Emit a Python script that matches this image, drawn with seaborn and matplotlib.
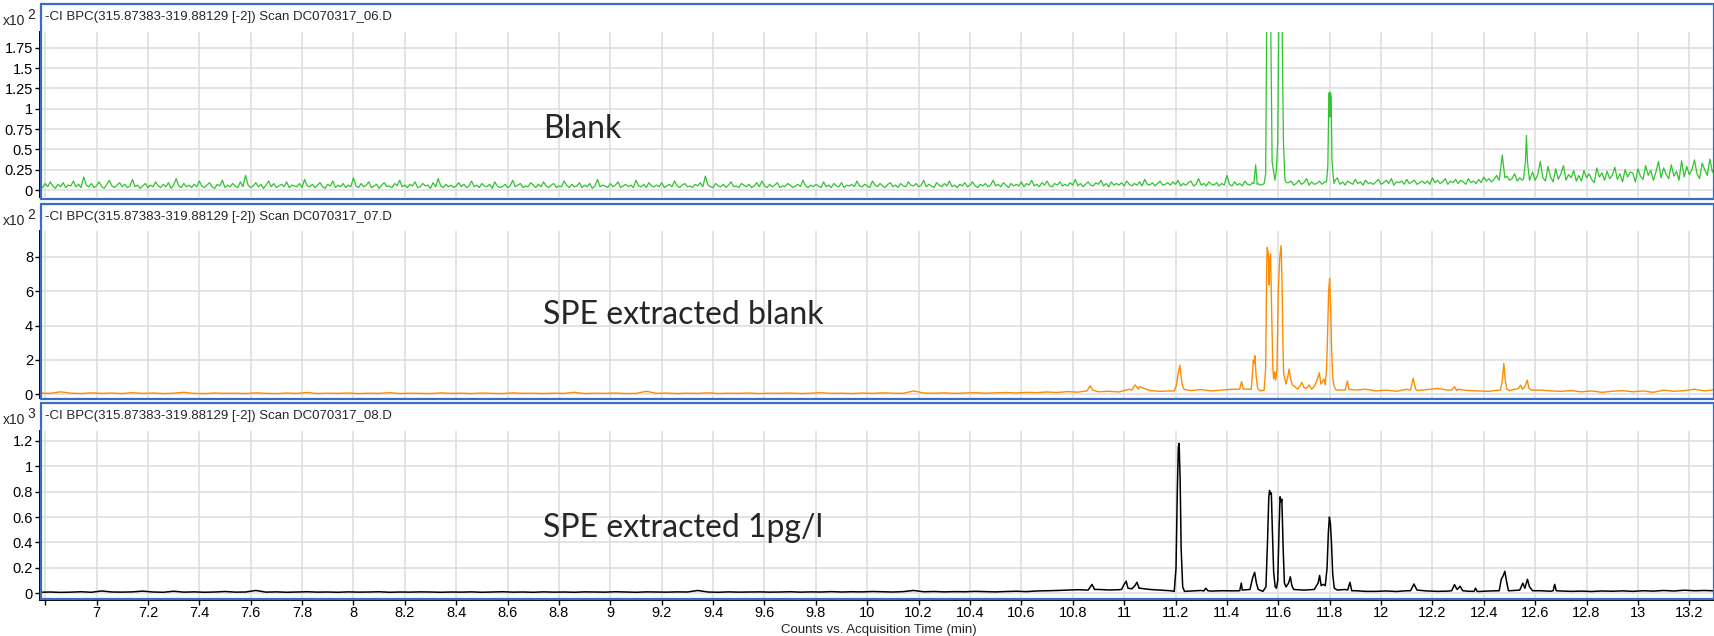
import numpy as np
import pandas as pd
import matplotlib.pyplot as plt
import seaborn as sns
from matplotlib.patches import Rectangle
from matplotlib.ticker import FixedLocator, FuncFormatter

sns.set_theme(style="whitegrid")
plt.rcParams['font.family'] = ['Liberation Sans', 'DejaVu Sans']

# --- DATA ---
HEADERS = [
    "-CI BPC(315.87383-319.88129 [-2]) Scan DC070317_06.D",
    "-CI BPC(315.87383-319.88129 [-2]) Scan DC070317_07.D",
    "-CI BPC(315.87383-319.88129 [-2]) Scan DC070317_08.D",
]
SAMPLE_LABELS = ["Blank", "SPE extracted blank", "SPE extracted 1pg/l"]
EXPONENTS = ["2", "2", "3"]
X_LABEL = "Counts vs. Acquisition Time (min)"
XTICKS = [6.8, 7.0, 7.2, 7.4, 7.6, 7.8, 8.0, 8.2, 8.4, 8.6, 8.8, 9.0, 9.2, 9.4, 9.6,
          9.8, 10.0, 10.2, 10.4, 10.6, 10.8, 11.0, 11.2, 11.4, 11.6, 11.8, 12.0,
          12.2, 12.4, 12.6, 12.8, 13.0, 13.2]
YTICKS = [
    [0, 0.25, 0.5, 0.75, 1.0, 1.25, 1.5, 1.75],
    [0, 2, 4, 6, 8],
    [0, 0.2, 0.4, 0.6, 0.8, 1.0, 1.2],
]

# Blank (x10^2 counts): baseline sampled every 0.01 min from 6.78 min
BLANK_T0, BLANK_DT = 6.78, 0.01
BLANK_BASE = [
    0.06, 0.03, 0.08, 0.04, 0.10, 0.05, 0.02, 0.07, 0.04, 0.09, 0.03, 0.06, 0.05, 0.11, 0.04, 0.07, 0.03, 0.16, 0.06, 0.04,
    0.08, 0.03, 0.05, 0.10, 0.04, 0.02, 0.07, 0.12, 0.05, 0.03, 0.06, 0.09, 0.04, 0.07, 0.03, 0.05, 0.13, 0.04, 0.06, 0.02,
    0.05, 0.08, 0.03, 0.06, 0.04, 0.10, 0.05, 0.03, 0.07, 0.04, 0.09, 0.02, 0.06, 0.14, 0.05, 0.03, 0.08, 0.04, 0.06, 0.03,
    0.07, 0.04, 0.11, 0.05, 0.03, 0.06, 0.09, 0.04, 0.02, 0.07, 0.05, 0.12, 0.03, 0.06, 0.04, 0.08, 0.05, 0.03, 0.10, 0.04,
    0.18, 0.06, 0.03, 0.05, 0.09, 0.04, 0.07, 0.02, 0.06, 0.11, 0.04, 0.08, 0.03, 0.05, 0.07, 0.04, 0.10, 0.03, 0.06, 0.05,
    0.04, 0.08, 0.03, 0.13, 0.05, 0.04, 0.07, 0.03, 0.06, 0.09, 0.04, 0.02, 0.07, 0.05, 0.11, 0.03, 0.06, 0.04, 0.08, 0.03,
    0.06, 0.04, 0.15, 0.05, 0.03, 0.08, 0.04, 0.06, 0.10, 0.03, 0.05, 0.07, 0.02, 0.06, 0.09, 0.04, 0.05, 0.03, 0.08, 0.05,
    0.12, 0.04, 0.06, 0.03, 0.07, 0.05, 0.10, 0.03, 0.04, 0.08, 0.05, 0.06, 0.02, 0.09, 0.04, 0.14, 0.05, 0.03, 0.07, 0.04,
    0.06, 0.03, 0.05, 0.09, 0.04, 0.07, 0.03, 0.05, 0.11, 0.04, 0.06, 0.03, 0.08, 0.05, 0.04, 0.07, 0.02, 0.10, 0.05, 0.03,
    0.04, 0.07, 0.03, 0.05, 0.12, 0.04, 0.06, 0.08, 0.03, 0.05, 0.04, 0.09, 0.06, 0.03, 0.07, 0.04, 0.10, 0.05, 0.03, 0.06,
    0.08, 0.03, 0.05, 0.04, 0.11, 0.06, 0.03, 0.07, 0.04, 0.05, 0.09, 0.03, 0.06, 0.04, 0.08, 0.02, 0.05, 0.13, 0.04, 0.06,
    0.05, 0.03, 0.08, 0.04, 0.06, 0.10, 0.03, 0.05, 0.07, 0.04, 0.06, 0.03, 0.12, 0.05, 0.04, 0.07, 0.03, 0.09, 0.05, 0.04,
    0.06, 0.04, 0.09, 0.03, 0.05, 0.07, 0.04, 0.11, 0.05, 0.03, 0.06, 0.08, 0.04, 0.05, 0.03, 0.07, 0.05, 0.09, 0.04, 0.17,
    0.06, 0.04, 0.03, 0.08, 0.05, 0.04, 0.07, 0.03, 0.06, 0.10, 0.04, 0.05, 0.03, 0.08, 0.06, 0.04, 0.07, 0.03, 0.05, 0.09,
    0.04, 0.11, 0.05, 0.03, 0.07, 0.04, 0.06, 0.09, 0.03, 0.05, 0.04, 0.08, 0.06, 0.03, 0.05, 0.07, 0.04, 0.12, 0.05, 0.03,
    0.06, 0.04, 0.07, 0.05, 0.03, 0.10, 0.04, 0.06, 0.03, 0.08, 0.05, 0.04, 0.09, 0.03, 0.06, 0.05, 0.07, 0.04, 0.11, 0.05,
    0.04, 0.07, 0.05, 0.03, 0.11, 0.06, 0.04, 0.08, 0.05, 0.03, 0.07, 0.09, 0.04, 0.06, 0.03, 0.08, 0.05, 0.04, 0.10, 0.06,
    0.05, 0.08, 0.04, 0.06, 0.12, 0.04, 0.07, 0.05, 0.03, 0.09, 0.06, 0.04, 0.08, 0.05, 0.11, 0.04, 0.06, 0.03, 0.07, 0.05,
    0.09, 0.04, 0.06, 0.10, 0.05, 0.03, 0.07, 0.05, 0.08, 0.04, 0.06, 0.12, 0.05, 0.07, 0.04, 0.09, 0.06, 0.03, 0.08, 0.05,
    0.07, 0.05, 0.10, 0.04, 0.08, 0.06, 0.12, 0.05, 0.07, 0.04, 0.09, 0.06, 0.11, 0.05, 0.04, 0.08, 0.06, 0.10, 0.05, 0.07,
    0.05, 0.09, 0.06, 0.13, 0.05, 0.08, 0.04, 0.07, 0.10, 0.06, 0.05, 0.09, 0.07, 0.12, 0.05, 0.08, 0.04, 0.10, 0.06, 0.08,
    0.06, 0.09, 0.05, 0.11, 0.07, 0.05, 0.08, 0.06, 0.10, 0.05, 0.13, 0.07, 0.06, 0.09, 0.05, 0.08, 0.11, 0.06, 0.07, 0.09,
    0.06, 0.10, 0.07, 0.12, 0.05, 0.08, 0.06, 0.09, 0.11, 0.05, 0.07, 0.14, 0.06, 0.08, 0.05, 0.10, 0.07, 0.06, 0.09, 0.05,
    0.08, 0.06, 0.18, 0.07, 0.05, 0.10, 0.06, 0.08, 0.05, 0.11, 0.07, 0.06, 0.09, 0.05, 0.08, 0.06, 0.07, 0.09, 0.06, 0.08,
    0.12, 0.09, 0.10, 0.07, 0.13, 0.06, 0.09, 0.11, 0.06, 0.08, 0.12, 0.07, 0.09, 0.14, 0.06, 0.10, 0.07, 0.08, 0.11, 0.07,
    0.10, 0.08, 0.12, 0.09, 0.08, 0.15, 0.07, 0.10, 0.06, 0.11, 0.09, 0.07, 0.13, 0.08, 0.10, 0.06, 0.12, 0.08, 0.09, 0.07,
    0.10, 0.13, 0.07, 0.09, 0.12, 0.08, 0.14, 0.06, 0.10, 0.09, 0.11, 0.07, 0.13, 0.08, 0.10, 0.12, 0.07, 0.09, 0.11, 0.08,
    0.11, 0.07, 0.15, 0.09, 0.12, 0.08, 0.10, 0.14, 0.07, 0.11, 0.09, 0.13, 0.08, 0.12, 0.10, 0.07, 0.14, 0.09, 0.11, 0.08,
    0.13, 0.09, 0.16, 0.11, 0.14, 0.10, 0.13, 0.18, 0.12, 0.15, 0.10, 0.17, 0.12, 0.14, 0.20, 0.11, 0.15, 0.12, 0.18, 0.13,
    0.14, 0.22, 0.12, 0.19, 0.35, 0.15, 0.11, 0.29, 0.16, 0.10, 0.26, 0.13, 0.20, 0.30, 0.12, 0.19, 0.15, 0.24, 0.11, 0.18,
    0.11, 0.24, 0.15, 0.20, 0.13, 0.09, 0.27, 0.16, 0.21, 0.12, 0.23, 0.14, 0.18, 0.28, 0.13, 0.20, 0.10, 0.25, 0.16, 0.22,
    0.21, 0.10, 0.26, 0.17, 0.13, 0.30, 0.18, 0.24, 0.12, 0.22, 0.35, 0.15, 0.27, 0.19, 0.14, 0.31, 0.17, 0.23, 0.12, 0.36,
    0.16, 0.29, 0.19, 0.25, 0.37, 0.20, 0.14, 0.33, 0.25, 0.18, 0.38, 0.22, 0.28,
]
BLANK_PEAKS = [
    [(11.505, 0.08), (11.512, 0.31), (11.518, 0.07)],
    [(11.545, 0.08), (11.551, 0.20), (11.556, 2.60), (11.569, 2.60), (11.576, 0.35),
     (11.582, 0.22), (11.587, 0.12), (11.592, 0.22), (11.598, 0.60), (11.604, 2.60),
     (11.613, 2.60), (11.620, 0.60), (11.626, 0.12), (11.632, 0.09)],
    [(11.788, 0.10), (11.793, 0.30), (11.797, 1.18), (11.799, 1.20), (11.801, 0.90),
     (11.803, 1.20), (11.806, 1.15), (11.809, 0.37), (11.813, 0.20), (11.817, 0.08),
     (11.822, 0.12)],
    [(12.460, 0.12), (12.472, 0.43), (12.482, 0.15)],
    [(12.555, 0.14), (12.562, 0.35), (12.566, 0.67), (12.570, 0.35), (12.578, 0.12)],
]

# SPE extracted blank (x10^2 counts): baseline every 0.04 min from 6.78 min
SPE_T0, SPE_DT = 6.78, 0.04
SPE_BASE = [
    0.08, 0.06, 0.15, 0.07, 0.05, 0.09, 0.06, 0.08, 0.05, 0.10,
    0.06, 0.08, 0.05, 0.07, 0.12, 0.06, 0.05, 0.08, 0.06, 0.07,
    0.05, 0.09, 0.06, 0.05, 0.08, 0.06, 0.11, 0.05, 0.07, 0.06,
    0.08, 0.05, 0.07, 0.06, 0.10, 0.05, 0.07, 0.06, 0.05, 0.09,
    0.06, 0.07, 0.05, 0.08, 0.06, 0.05, 0.09, 0.06, 0.07, 0.05,
    0.07, 0.06, 0.12, 0.05, 0.07, 0.06, 0.08, 0.05, 0.06, 0.18,
    0.06, 0.08, 0.05, 0.07, 0.06, 0.09, 0.05, 0.07, 0.06, 0.08,
    0.05, 0.07, 0.06, 0.08, 0.05, 0.07, 0.10, 0.06, 0.07, 0.05,
    0.08, 0.06, 0.09, 0.07, 0.06, 0.20, 0.08, 0.07, 0.09, 0.06,
    0.08, 0.10, 0.07, 0.09, 0.11, 0.08, 0.12, 0.10, 0.14, 0.11,
    0.16, 0.13, 0.22, 0.15, 0.18, 0.14, 0.30, 0.45, 0.22, 0.18,
    0.20, 0.20, 0.22, 0.28, 0.20, 0.25, 0.30, 0.45, 0.30, 0.30,
    0.30, 0.30, 0.30, 0.30, 0.30, 0.30, 0.30, 0.45, 0.25, 0.30,
    0.20, 0.25, 0.18, 0.30, 0.22, 0.28, 0.35, 0.25, 0.30, 0.22,
    0.20, 0.18, 0.25, 0.40, 0.30, 0.35, 0.25, 0.20, 0.18, 0.22,
    0.15, 0.20, 0.12, 0.18, 0.22, 0.15, 0.20, 0.12, 0.25, 0.18,
    0.22, 0.30, 0.20, 0.28,
]
SPE_PEAKS = [
    [(10.855, 0.20), (10.868, 0.50), (10.878, 0.25)],
    [(11.030, 0.25), (11.043, 0.55), (11.055, 0.30)],
    [(11.195, 0.20), (11.203, 0.50), (11.208, 1.00), (11.212, 1.35), (11.217, 1.70),
     (11.221, 1.10), (11.227, 0.50), (11.233, 0.30)],
    [(11.450, 0.30), (11.457, 0.74), (11.464, 0.30)],
    [(11.495, 0.30), (11.503, 2.00), (11.506, 1.80), (11.509, 2.25), (11.514, 1.03),
     (11.520, 0.35), (11.530, 0.20), (11.545, 0.25), (11.551, 1.50), (11.555, 7.50),
     (11.557, 8.54), (11.561, 8.20), (11.564, 6.37), (11.567, 7.80), (11.570, 8.16),
     (11.574, 5.00), (11.579, 1.50), (11.582, 0.90), (11.586, 1.32), (11.590, 0.83),
     (11.595, 1.50), (11.600, 6.00), (11.606, 8.00), (11.611, 8.64), (11.614, 7.00),
     (11.618, 3.00), (11.621, 1.20), (11.625, 0.93), (11.630, 0.60), (11.637, 1.00),
     (11.642, 1.48), (11.648, 0.90), (11.655, 0.55), (11.665, 0.45), (11.675, 0.30),
     (11.685, 0.50), (11.692, 0.70), (11.700, 0.40), (11.710, 0.35), (11.720, 0.55),
     (11.730, 0.30), (11.740, 0.45), (11.750, 0.80), (11.760, 1.26), (11.766, 0.60),
     (11.772, 0.75), (11.777, 0.90), (11.783, 0.55), (11.788, 1.50), (11.792, 3.50),
     (11.796, 6.00), (11.800, 6.76), (11.804, 5.00), (11.808, 2.50), (11.812, 1.00),
     (11.817, 0.50), (11.823, 0.30), (11.830, 0.25)],
    [(11.860, 0.25), (11.869, 0.78), (11.875, 0.30)],
    [(12.115, 0.25), (12.125, 0.93), (12.135, 0.30)],
    [(12.275, 0.25), (12.286, 0.45), (12.295, 0.22)],
    [(12.465, 0.25), (12.472, 0.80), (12.478, 1.80), (12.483, 0.90), (12.490, 0.30),
     (12.500, 0.22), (12.520, 0.30), (12.535, 0.35), (12.543, 0.54), (12.550, 0.30),
     (12.560, 0.45), (12.569, 0.83), (12.576, 0.35), (12.585, 0.25)],
]

# SPE extracted 1pg/l (x10^3 counts): baseline every 0.04 min from 6.78 min
PG_T0, PG_DT = 6.78, 0.04
PG_BASE = [
    0.008, 0.010, 0.007, 0.009, 0.012, 0.008, 0.018, 0.010, 0.009, 0.011,
    0.017, 0.010, 0.008, 0.016, 0.009, 0.011, 0.008, 0.010, 0.014, 0.009,
    0.010, 0.022, 0.009, 0.011, 0.008, 0.010, 0.012, 0.009, 0.010, 0.008,
    0.011, 0.009, 0.010, 0.012, 0.008, 0.010, 0.009, 0.011, 0.010, 0.008,
    0.010, 0.009, 0.011, 0.008, 0.010, 0.012, 0.009, 0.010, 0.008, 0.011,
    0.009, 0.010, 0.008, 0.011, 0.010, 0.009, 0.012, 0.010, 0.008, 0.011,
    0.010, 0.009, 0.011, 0.010, 0.022, 0.010, 0.008, 0.011, 0.009, 0.010,
    0.011, 0.009, 0.010, 0.012, 0.009, 0.011, 0.010, 0.013, 0.010, 0.012,
    0.011, 0.014, 0.012, 0.010, 0.013, 0.022, 0.012, 0.014, 0.011, 0.013,
    0.012, 0.015, 0.013, 0.011, 0.014, 0.016, 0.013, 0.018, 0.020, 0.022,
    0.025, 0.028, 0.024, 0.030, 0.026, 0.028, 0.050, 0.040, 0.030, 0.025,
    0.020, 0.015, 0.018, 0.022, 0.017, 0.020, 0.019, 0.030, 0.025, 0.020,
    0.020, 0.030, 0.020, 0.025, 0.020, 0.030, 0.020, 0.030, 0.020, 0.015,
    0.015, 0.018, 0.014, 0.020, 0.016, 0.018, 0.015, 0.017, 0.020, 0.016,
    0.014, 0.018, 0.016, 0.020, 0.020, 0.018, 0.020, 0.016, 0.018, 0.015,
    0.017, 0.014, 0.018, 0.016, 0.019, 0.015, 0.020, 0.017, 0.022, 0.018,
    0.024, 0.020, 0.022, 0.019,
]
PG_PEAKS = [
    [(10.860, 0.025), (10.875, 0.070), (10.885, 0.030)],
    [(10.990, 0.030), (11.000, 0.070), (11.008, 0.095), (11.015, 0.040), (11.030, 0.035),
     (11.042, 0.060), (11.050, 0.087), (11.058, 0.040)],
    [(11.195, 0.015), (11.202, 0.200), (11.207, 0.800), (11.211, 1.150), (11.214, 1.180),
     (11.218, 0.900), (11.222, 0.350), (11.228, 0.050), (11.235, 0.015)],
    [(11.310, 0.018), (11.318, 0.040), (11.326, 0.020)],
    [(11.450, 0.020), (11.456, 0.080), (11.460, 0.025), (11.490, 0.030), (11.500, 0.120),
     (11.508, 0.165), (11.515, 0.080), (11.522, 0.030), (11.540, 0.015), (11.552, 0.050),
     (11.558, 0.400), (11.563, 0.750), (11.566, 0.810), (11.569, 0.780), (11.573, 0.790),
     (11.577, 0.500), (11.582, 0.170), (11.588, 0.050), (11.593, 0.040), (11.598, 0.100),
     (11.603, 0.500), (11.607, 0.760), (11.611, 0.720), (11.614, 0.740), (11.619, 0.350),
     (11.624, 0.080), (11.630, 0.050), (11.640, 0.080), (11.647, 0.130), (11.653, 0.060),
     (11.660, 0.030), (11.700, 0.025), (11.740, 0.030), (11.755, 0.080), (11.761, 0.140),
     (11.767, 0.060), (11.775, 0.070), (11.783, 0.060), (11.790, 0.200), (11.795, 0.480),
     (11.799, 0.600), (11.803, 0.550), (11.807, 0.400), (11.812, 0.150), (11.818, 0.040),
     (11.830, 0.025)],
    [(11.870, 0.025), (11.879, 0.086), (11.886, 0.020)],
    [(12.115, 0.020), (12.128, 0.073), (12.140, 0.025)],
    [(12.275, 0.020), (12.286, 0.068), (12.296, 0.030), (12.308, 0.055), (12.318, 0.020)],
    [(12.362, 0.015), (12.368, 0.040), (12.374, 0.015)],
    [(12.460, 0.020), (12.468, 0.110), (12.476, 0.140), (12.482, 0.173), (12.488, 0.100),
     (12.496, 0.020)],
    [(12.540, 0.025), (12.552, 0.080), (12.560, 0.040), (12.570, 0.110), (12.578, 0.050),
     (12.590, 0.020)],
    [(12.670, 0.020), (12.676, 0.070), (12.682, 0.020)],
]

COLORS = ["#2fc42f", "#ff8c00", "#000000"]
FRAME_BLUE = "#3a6bc5"

W, H = 1715, 636


def build_trace(t0, dt, base, peaks):
    t = np.round(t0 + dt * np.arange(len(base)), 4)
    df = pd.DataFrame({"time": t, "counts": base})
    for cluster in peaks:
        times = [p[0] for p in cluster]
        df = df[(df.time < min(times)) | (df.time > max(times))]
        df = pd.concat([df, pd.DataFrame(cluster, columns=["time", "counts"])])
    return df.sort_values("time").reset_index(drop=True)


traces = [
    build_trace(BLANK_T0, BLANK_DT, BLANK_BASE, BLANK_PEAKS),
    build_trace(SPE_T0, SPE_DT, SPE_BASE, SPE_PEAKS),
    build_trace(PG_T0, PG_DT, PG_BASE, PG_PEAKS),
]

fig = plt.figure(figsize=(W / 100, H / 100), dpi=100)


def px_axes(left, top, right, bottom):
    return fig.add_axes([left / W, 1 - bottom / H, (right - left) / W, (bottom - top) / H])


# pixel boxes of the plot areas and of the blue frames
plot_boxes = [(40, 32, 1715, 197), (40, 231, 1715, 398), (40, 431, 1715, 600)]
frame_boxes = [(41, 4, 1714, 199), (41, 204, 1714, 399), (41, 403, 1714, 599)]
ylims = [(-0.086, 1.943), (-0.21, 9.50), (-0.053, 1.278)]
label_baselines = [138, 324, 537]

for i in range(3):
    ax = px_axes(*plot_boxes[i])
    sns.lineplot(data=traces[i], x="time", y="counts", ax=ax, color=COLORS[i],
                 lw=0.9 if i == 0 else (1.0 if i == 1 else 1.1), estimator=None, sort=True)
    ax.set_xlim(6.78, 13.30)
    ax.set_ylim(*ylims[i])
    ax.set_xlabel("")
    ax.set_ylabel("")
    ax.set_facecolor("white")
    ax.xaxis.set_major_locator(FixedLocator(XTICKS))
    ax.set_yticks(YTICKS[i])
    ax.yaxis.set_major_formatter(FuncFormatter(lambda v, p: f"{v:g}"))
    ax.xaxis.set_major_formatter(FuncFormatter(lambda v, p: "" if v < 6.9 else f"{v:g}"))
    ax.grid(True, color="#dddddd", lw=1.1)
    for s in ["top", "right", "bottom"]:
        ax.spines[s].set_visible(False)
    ax.spines["left"].set_color("black")
    ax.spines["left"].set_linewidth(1.4)
    ax.tick_params(axis="y", left=True, length=3.5, width=1.0, color="black",
                   labelsize=10.5, pad=1.5, labelcolor="black")
    if i == 2:
        ax.spines["bottom"].set_visible(True)
        ax.spines["bottom"].set_color("black")
        ax.spines["bottom"].set_linewidth(1.4)
        ax.tick_params(axis="x", bottom=True, length=3.5, width=1.0, color="black",
                       labelsize=10.5, pad=1, labelcolor="black")
    else:
        ax.tick_params(axis="x", bottom=False, labelbottom=False)

    # blue panel frame
    l, t, r, b = frame_boxes[i]
    fig.patches.append(Rectangle((l / W, 1 - b / H), (r - l) / W, (b - t) / H,
                                 transform=fig.transFigure, fill=False,
                                 edgecolor=FRAME_BLUE, lw=1.6, zorder=5))
    # header and exponent
    hy = t + 13
    fig.text(45 / W, 1 - hy / H, HEADERS[i], fontsize=9.5, va="center", ha="left")
    fig.text(3 / W, 1 - (hy + 4) / H, "x10", fontsize=10, va="center", ha="left")
    fig.text(27 / W, 1 - (hy - 2) / H, EXPONENTS[i], fontsize=10, va="center", ha="left")
    # sample label
    fig.text(543 / W, 1 - label_baselines[i] / H, SAMPLE_LABELS[i], fontsize=23,
             family=["Lato", "DejaVu Sans"], va="baseline", ha="left")

fig.text(879 / W, 1 - 630 / H, X_LABEL, fontsize=9.5, va="center", ha="center")

fig.savefig("out.png", dpi=100)
